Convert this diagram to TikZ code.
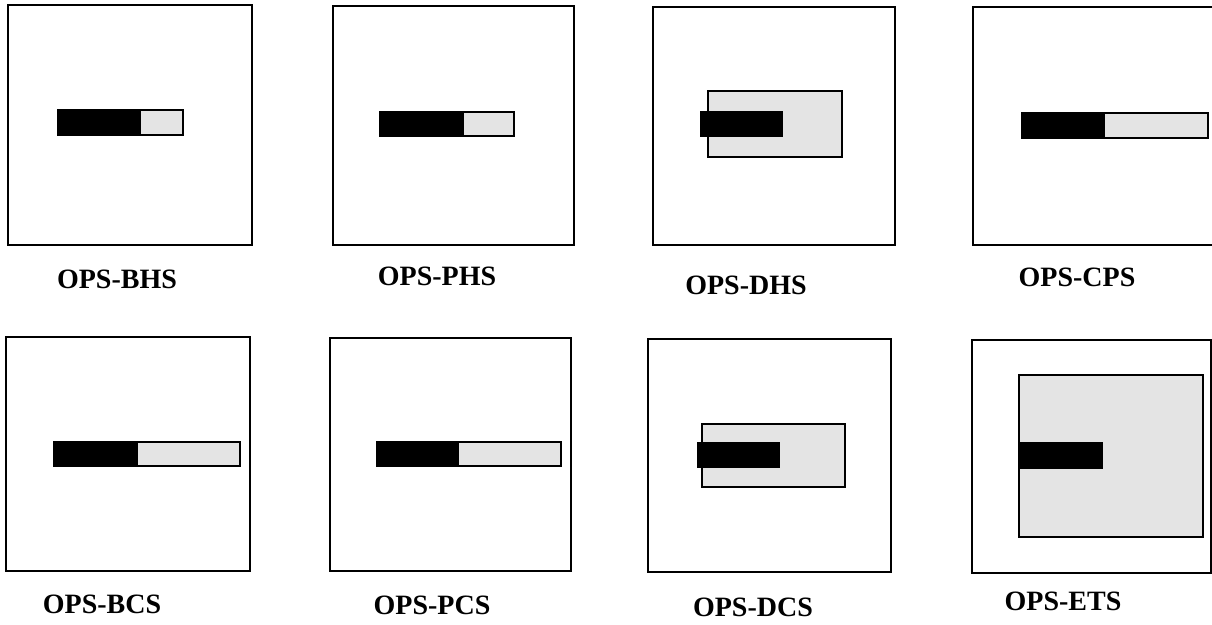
\documentclass[tikz,border=0pt]{standalone}
\usepackage{fontspec}
\setmainfont{Liberation Serif}
\usepackage{tikz}
\usetikzlibrary{positioning}
\definecolor{ink}{HTML}{000000}
\definecolor{stipple}{HTML}{E4E4E4}

\begin{document}
\begin{tikzpicture}[
  x=0.5pt, y=-0.5pt,
  font=\fontsize{14}{16}\selectfont\bfseries,
  frame/.style={draw=ink, line width=0.9pt},
  slot/.style={draw=ink, fill=stipple, line width=0.7pt},
  core/.style={fill=ink, draw=ink, line width=0.5pt},
  tag/.style={inner sep=0pt, anchor=center}
]
\useasboundingbox (0,0) rectangle (1212,625);
% top row
\draw[frame] (8,5) rectangle (252,245);
\draw[slot] (58,110) rectangle (183,135);
\draw[core] (58,110) rectangle (140,135);
\node[tag] (bhs) at (117,279) {OPS-BHS};

\draw[frame] (333,6) rectangle (574,245);
\draw[slot] (380,112) rectangle (514,136);
\draw[core] (380,112) rectangle (463,136);
\node[tag] (phs) at (437,276) {OPS-PHS};

\draw[frame] (653,7) rectangle (895,245);
\draw[slot] (708,91) rectangle (842,157);
\draw[core] (700,112) rectangle (782,137);
\node[tag] (dhs) at (746,285) {OPS-DHS};

\draw[frame] (973,7) rectangle (1214,245);
\draw[slot] (1022,113) rectangle (1208,138);
\draw[core] (1022,113) rectangle (1104,138);
\node[tag] (cps) at (1077,277) {OPS-CPS};

% bottom row
\draw[frame] (6,337) rectangle (250,571);
\draw[slot] (54,442) rectangle (240,466);
\draw[core] (54,442) rectangle (137,466);
\node[tag] (bcs) at (102,604) {OPS-BCS};

\draw[frame] (330,338) rectangle (571,571);
\draw[slot] (377,442) rectangle (561,466);
\draw[core] (377,442) rectangle (458,466);
\node[tag] (pcs) at (432,605) {OPS-PCS};

\draw[frame] (648,339) rectangle (891,572);
\draw[slot] (702,424) rectangle (845,487);
\draw[core] (697,443) rectangle (779,468);
\node[tag] (dcs) at (753,607) {OPS-DCS};

\draw[frame] (972,340) rectangle (1211,573);
\draw[slot] (1019,375) rectangle (1203,537);
\draw[core] (1019,443) rectangle (1102,469);
\node[tag] (ets) at (1063,601) {OPS-ETS};
\end{tikzpicture}
\end{document}
